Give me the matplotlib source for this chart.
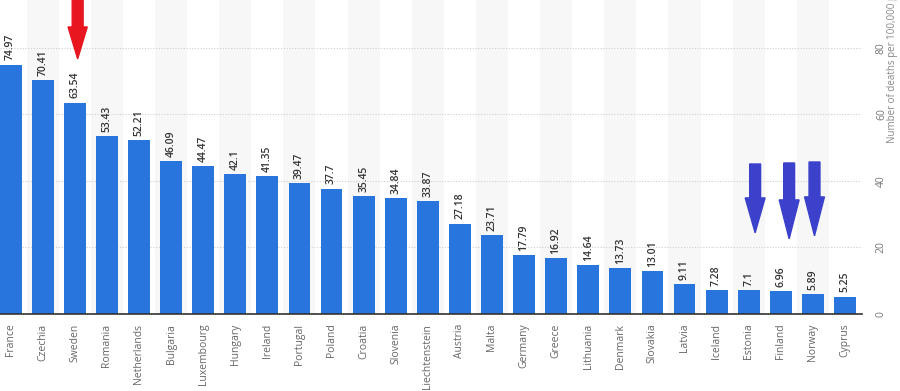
import matplotlib.pyplot as plt
from matplotlib.patches import FancyArrow

plt.rcParams['font.family'] = ['Open Sans', 'DejaVu Sans']

# DATA
countries = ["France", "Czechia", "Sweden", "Romania", "Netherlands", "Bulgaria",
             "Luxembourg", "Hungary", "Ireland", "Portugal", "Poland", "Croatia",
             "Slovenia", "Liechtenstein", "Austria", "Malta", "Germany", "Greece",
             "Lithuania", "Denmark", "Slovakia", "Latvia", "Iceland", "Estonia",
             "Finland", "Norway", "Cyprus"]
deaths = [74.97, 70.41, 63.54, 53.43, 52.21, 46.09, 44.47, 42.1, 41.35, 39.47,
          37.7, 35.45, 34.84, 33.87, 27.18, 23.71, 17.79, 16.92, 14.64, 13.73,
          13.01, 9.11, 7.28, 7.1, 6.96, 5.89, 5.25]
value_labels = ["74.97", "70.41", "63.54", "53.43", "52.21", "46.09", "44.47",
                "42.1", "41.35", "39.47", "37.7", "35.45", "34.84", "33.87",
                "27.18", "23.71", "17.79", "16.92", "14.64", "13.73", "13.01",
                "9.11", "7.28", "7.1", "6.96", "5.89", "5.25"]
yticks = [0, 20, 40, 60, 80]

# SETUP
fig = plt.figure(figsize=(9, 3.91), dpi=100)
fig.patch.set_facecolor('white')
ax = fig.add_axes([0, 77 / 391, 862 / 900, 314 / 391])
x = list(range(len(countries)))

# alternating column stripes
for i in x:
    if i % 2 == 1:
        ax.axvspan(i - 0.5, i + 0.5, color='#f7f7f7', zorder=0, lw=0)

ax.grid(axis='y', linestyle=(0, (1, 1.5)), color='#cfcfcf', linewidth=0.8, zorder=1)
ax.set_axisbelow(True)

bars = ax.bar(x, deaths, width=0.68, color='#2876dd', zorder=2)

for xi, v, lab in zip(x, deaths, value_labels):
    ax.annotate(lab, (xi, v), xytext=(0, 3), textcoords='offset points',
                rotation=90, ha='center', va='bottom', fontsize=7.5,
                color='#333333', fontweight='semibold')

ax.set_xlim(-0.33, 26.53)
ax.set_ylim(0, 94.4)
ax.set_xticks(x)
ax.set_xticklabels(countries, rotation=90, fontsize=7.5, color='#666666')
ax.tick_params(axis='x', length=0, pad=7)

ax.yaxis.tick_right()
ax.set_yticks(yticks)
ax.set_yticklabels([str(t) for t in yticks], rotation=90, va='center',
                   fontsize=7.5, color='#777777')
ax.tick_params(axis='y', length=0, pad=10)

for s in ['top', 'left', 'right']:
    ax.spines[s].set_visible(False)
ax.spines['bottom'].set_color('#333333')
ax.spines['bottom'].set_linewidth(1.2)
ax.spines['bottom'].set_zorder(3)

fig.text(893 / 900, (391 - 143) / 391, "Number of deaths per 100,000 population",
         rotation=90, ha='center', va='bottom', fontsize=7, color='#888888')

# ARROWS
ax.add_patch(FancyArrow(2.09, 97, 0, -20.3, width=0.34, head_width=0.6,
                        head_length=9.6, length_includes_head=True,
                        color='#e8161f', zorder=5))
for ax_x, top, tip, hl in [(23.2, 45.1, 24.4, 10.5),
                           (24.26, 45.4, 22.6, 11.7),
                           (25.05, 45.7, 23.5, 11.7)]:
    ax.add_patch(FancyArrow(ax_x, top, 0, tip - top, width=0.34, head_width=0.62,
                            head_length=hl, length_includes_head=True,
                            color='#3c41cc', zorder=5))

fig.savefig('out.png', dpi=100)
